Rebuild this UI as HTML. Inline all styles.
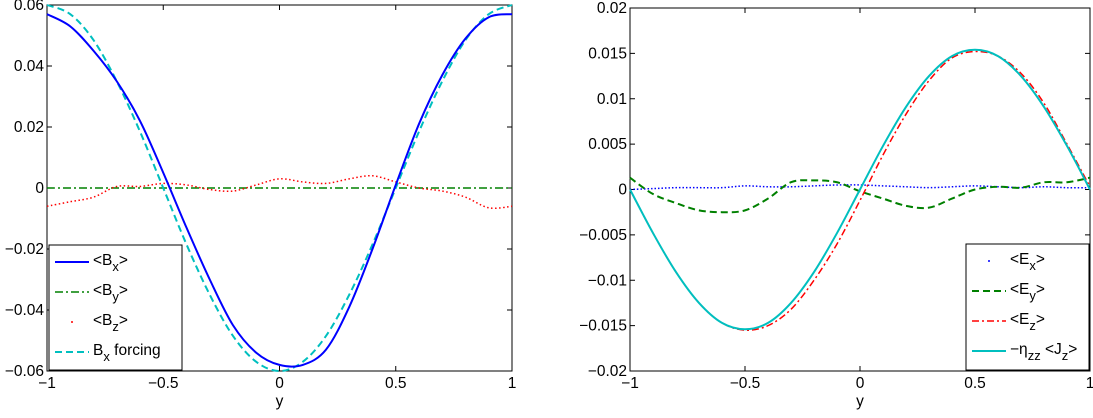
<!DOCTYPE html>
<html><head><meta charset="utf-8"><style>
body{margin:0;background:#fff;font-family:"Liberation Sans",sans-serif;}
svg text{font-family:"Liberation Sans",sans-serif;font-size:15.5px;fill:#000;}
</style></head><body>
<svg id="fig" width="1093" height="413" viewBox="0 0 1093 413" xmlns="http://www.w3.org/2000/svg"></svg>
<script>
const ys=[-1,-0.9,-0.8,-0.7,-0.6,-0.5,-0.4,-0.3,-0.2,-0.1,0,0.1,0.2,0.3,0.4,0.5,0.6,0.7,0.8,0.9,1];
const bx=[0.057,0.053,0.045,0.035,0.022,0.005,-0.013,-0.030,-0.045,-0.054,-0.058,-0.058,-0.053,-0.039,-0.020,0.001,0.021,0.037,0.049,0.056,0.057];
const by=[0,0,0,0,0,0,0,0,0,0,0,0,0,0,0,0,0,0,0,0,0];
const bz=[-0.006,-0.0045,-0.003,0.0005,0.0005,0.0015,0.001,-0.0005,-0.001,0.001,0.003,0.002,0.0015,0.003,0.004,0.002,0,-0.001,-0.003,-0.0065,-0.006];
const bf=[0.06,0.057,0.0485,0.035,0.0185,0,-0.0185,-0.035,-0.0485,-0.057,-0.06,-0.057,-0.0485,-0.035,-0.0185,0,0.0185,0.035,0.0485,0.057,0.06];
const ex=[0,0.0001,0.0002,0.0002,0.0002,0.0004,0.0003,0.0003,0.0004,0.0005,0.0005,0.0004,0.0003,0.0002,0.0003,0.0004,0.0003,0.0002,0.0003,0.0002,0.0002];
const ey=[0.0013,-0.0005,-0.0015,-0.0023,-0.0025,-0.0023,-0.001,0.0008,0.001,0.0008,-0.0002,-0.001,-0.0018,-0.002,-0.001,0,0.0003,0.0002,0.0008,0.0008,0.0013];
const ez=[0,-0.0048,-0.0091,-0.0125,-0.0147,-0.0155,-0.015,-0.0132,-0.0100,-0.006,-0.0012,0.0038,0.0083,0.0120,0.0145,0.0152,0.0147,0.0128,0.0095,0.005,0.0003];
const jz=[0,-0.0048,-0.0091,-0.0125,-0.0147,-0.0154,-0.0147,-0.0125,-0.0091,-0.0048,0,0.0048,0.0091,0.0125,0.0147,0.0154,0.0147,0.0125,0.0091,0.0048,0];
const xTicks=[-1,-0.5,0,0.5,1];
const yTicksL=[-0.06,-0.04,-0.02,0,0.02,0.04,0.06];
const yTicksR=[-0.02,-0.015,-0.01,-0.005,0,0.005,0.01,0.015,0.02];
const svg=document.getElementById('fig');const NS='http://www.w3.org/2000/svg';
function mk(t,a,p){const e=document.createElementNS(NS,t);for(const k in a)e.setAttribute(k,a[k]);(p||svg).appendChild(e);return e;}
function fmt(v){return v===0?'0':(v<0?'\u2212':'')+String(Math.abs(v)).replace(/^0\./,'0.');}
function axes(name,x0,x1,yt,yb,ymin,ymax,yticks){
 const g=mk('g',{});
 const sx=v=>x0+(v+1)/2*(x1-x0), sy=v=>yb-(v-ymin)/(ymax-ymin)*(yb-yt);
 mk('rect',{x:x0,y:yt,width:x1-x0,height:yb-yt,fill:'none',stroke:'#000','stroke-width':1},g);
 xTicks.forEach(v=>{const x=sx(v);mk('line',{x1:x,x2:x,y1:yb,y2:yb-5,stroke:'#000'},g);mk('line',{x1:x,x2:x,y1:yt,y2:yt+5,stroke:'#000'},g);
  const t=mk('text',{x:x,y:yb+17,'text-anchor':'middle'},g);t.textContent=fmt(v);});
 yticks.forEach(v=>{const y=sy(v);mk('line',{x1:x0,x2:x0+5,y1:y,y2:y,stroke:'#000'},g);mk('line',{x1:x1,x2:x1-5,y1:y,y2:y,stroke:'#000'},g);
  const t=mk('text',{x:x0-3,y:y+5,'text-anchor':'end'},g);t.textContent=fmt(v);});
 const xl=mk('text',{x:(x0+x1)/2,y:yb+35,'text-anchor':'middle'},g);xl.textContent='y';
 return {g,sx,sy};
}
function path(ax,vals){const p=ys.map((y,i)=>[ax.sx(y),ax.sy(vals[i])]);let d='M'+p[0][0]+','+p[0][1];
 for(let i=0;i<p.length-1;i++){const a=p[Math.max(0,i-1)],b=p[i],c=p[i+1],e=p[Math.min(p.length-1,i+2)];
  d+=' C'+(b[0]+(c[0]-a[0])/6)+','+(b[1]+(c[1]-a[1])/6)+' '+(c[0]-(e[0]-b[0])/6)+','+(c[1]-(e[1]-b[1])/6)+' '+c[0]+','+c[1];}return d;}
function series(ax,name,vals,st){const e=mk('path',Object.assign({d:path(ax,vals),fill:'none'},st),ax.g);}
const sBlue={stroke:'#0000ff','stroke-width':2},sGreenDD={stroke:'#008000','stroke-width':1.5,'stroke-dasharray':'8,3,2,3'},sRedDot={stroke:'#ff0000','stroke-width':1.5,'stroke-dasharray':'1.5,2.5'},sCyanD={stroke:'#00bfbf','stroke-width':2,'stroke-dasharray':'7,4'};
const sBlueDot={stroke:'#0000ff','stroke-width':1.5,'stroke-dasharray':'1.5,2'},sGreenD={stroke:'#008000','stroke-width':2,'stroke-dasharray':'7,4'},sRedDD={stroke:'#ff0000','stroke-width':1.5,'stroke-dasharray':'7,3,2,3'},sCyan={stroke:'#00bfbf','stroke-width':2};
const L=axes('left-chart',47,512,5,371,-0.06,0.06,yTicksL);
series(L,'series-by',by,sGreenDD);series(L,'series-bz',bz,sRedDot);series(L,'series-bx-forcing',bf,sCyanD);series(L,'series-bx',bx,sBlue);
const R=axes('right-chart',630,1090,8,371,-0.02,0.02,yTicksR);
series(R,'series-ex',ex,sBlueDot);series(R,'series-ey',ey,sGreenD);series(R,'series-ez',ez,sRedDD);series(R,'series-jz',jz,sCyan);
function legend(name,x,y,w,h,items){const g=mk('g',{});
 mk('rect',{x:x,y:y,width:w,height:h,fill:'#fff',stroke:'#000'},g);
 items.forEach((it,i)=>{const cy=y+17+i*30;
  if(it.dot)mk('circle',{cx:x+23,cy:cy,r:1,fill:it.st.stroke},g);else mk('line',Object.assign({x1:x+6,x2:x+40,y1:cy,y2:cy},it.st),g);
  const t=mk('text',{x:x+44,y:cy+3},g);t.innerHTML=it.html;});}
const sub=s=>'<tspan dy="6" font-size="13">'+s+'</tspan><tspan dy="-6">';
legend('left-legend',49,245,133,125,[{st:sBlue,html:'&lt;B'+sub('x')+'&gt;</tspan>'},{st:sGreenDD,html:'&lt;B'+sub('y')+'&gt;</tspan>'},{st:sRedDot,dot:true,html:'&lt;B'+sub('z')+'&gt;</tspan>'},{st:sCyanD,html:'B'+sub('x')+' forcing</tspan>'}]);
legend('right-legend',966,244,123,126,[{st:sBlueDot,dot:true,html:'&lt;E'+sub('x')+'&gt;</tspan>'},{st:sGreenD,html:'&lt;E'+sub('y')+'&gt;</tspan>'},{st:sRedDD,html:'&lt;E'+sub('z')+'&gt;</tspan>'},{st:sCyan,html:'\u2212\u03b7'+sub('zz')+' &lt;J'+sub('z')+'&gt;</tspan></tspan>'}]);
</script>
</body></html>
